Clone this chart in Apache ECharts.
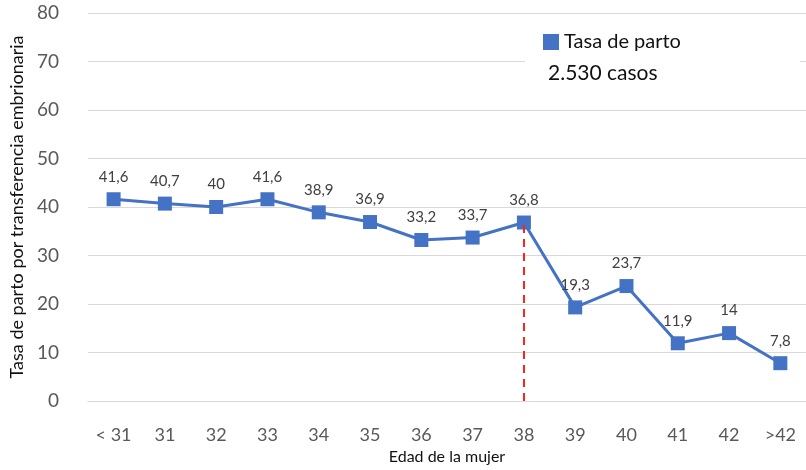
<!DOCTYPE html>
<html>
<head>
<meta charset="utf-8">
<script src="https://cdn.jsdelivr.net/npm/echarts@6/dist/echarts.min.js"></script>
<style>
  html, body { margin: 0; padding: 0; background: #fff; }
  #chart { width: 806px; height: 470px; }
</style>
</head>
<body>
<div id="chart"></div>
<script>
// Age groups and delivery rate per embryo transfer (%)
const categories = ['< 31', '31', '32', '33', '34', '35', '36', '37', '38', '39', '40', '41', '42', '>42'];
const tasaParto = [41.6, 40.7, 40, 41.6, 38.9, 36.9, 33.2, 33.7, 36.8, 19.3, 23.7, 11.9, 14, 7.8];
const yTicks = { min: 0, max: 80, interval: 10 };
const cutoffAge = '38';
const cutoffValue = 36.8;
const totalCases = '2.530 casos';

const FONT = 'Lato, "Open Sans", sans-serif';
const cutoffIndex = categories.indexOf(cutoffAge);
const chart = echarts.init(document.getElementById('chart'), null, { renderer: 'canvas' });

chart.setOption({
  animation: false,
  textStyle: { fontFamily: FONT },
  grid: { left: 77, right: -7, top: 13, bottom: 65, containLabel: false },
  legend: {
    data: [{ name: 'Tasa de parto', icon: 'rect' }],
    left: 538, top: 27, z: 10,
    itemWidth: 16, itemHeight: 16, itemGap: 8,
    textStyle: { fontFamily: FONT, fontSize: 20, color: '#111' }
  },
  graphic: [
    {
      type: 'rect', z: 5, silent: true,
      shape: { x: 525, y: 20, width: 275, height: 80 },
      style: { fill: '#fff' }
    },
    {
      type: 'text', z: 10, left: 548, top: 63,
      style: { text: totalCases, font: '21px ' + FONT, fill: '#111' }
    }
  ],
  xAxis: {
    type: 'category',
    data: categories,
    boundaryGap: true,
    name: 'Edad de la mujer',
    nameLocation: 'middle',
    nameGap: 48,
    nameTextStyle: { fontFamily: FONT, fontSize: 16, color: '#111' },
    axisLine: { show: true, lineStyle: { color: '#d9d9d9', width: 1 } },
    axisTick: { show: false },
    axisLabel: { fontFamily: FONT, fontSize: 18, color: '#595959', margin: 25 }
  },
  yAxis: {
    type: 'value',
    min: yTicks.min, max: yTicks.max, interval: yTicks.interval,
    name: 'Tasa de parto por transferencia embrionaria',
    nameLocation: 'middle',
    nameGap: 60,
    nameTextStyle: { fontFamily: FONT, fontSize: 18, color: '#111' },
    axisLine: { show: false },
    axisTick: { show: false },
    axisLabel: { fontFamily: FONT, fontSize: 19, color: '#595959', margin: 29 },
    splitLine: { lineStyle: { color: '#d9d9d9', width: 1 } }
  },
  series: [{
    name: 'Tasa de parto',
    type: 'line',
    data: tasaParto,
    clip: false,
    symbol: 'rect',
    symbolSize: 14,
    itemStyle: { color: '#4472C4' },
    lineStyle: { color: '#4472C4', width: 3 },
    label: {
      show: true, position: 'top', distance: 8,
      fontFamily: FONT, fontSize: 15, color: '#404040',
      formatter: p => String(p.value).replace('.', ',')
    },
    markLine: {
      silent: true,
      symbol: ['none', 'none'],
      label: { show: false },
      lineStyle: { color: '#ff2020', type: [8, 6], width: 2 },
      data: [[
        { coord: [cutoffIndex, yTicks.min] },
        { coord: [cutoffIndex, cutoffValue] }
      ]]
    },
    z: 3
  }]
});
</script>
</body>
</html>
